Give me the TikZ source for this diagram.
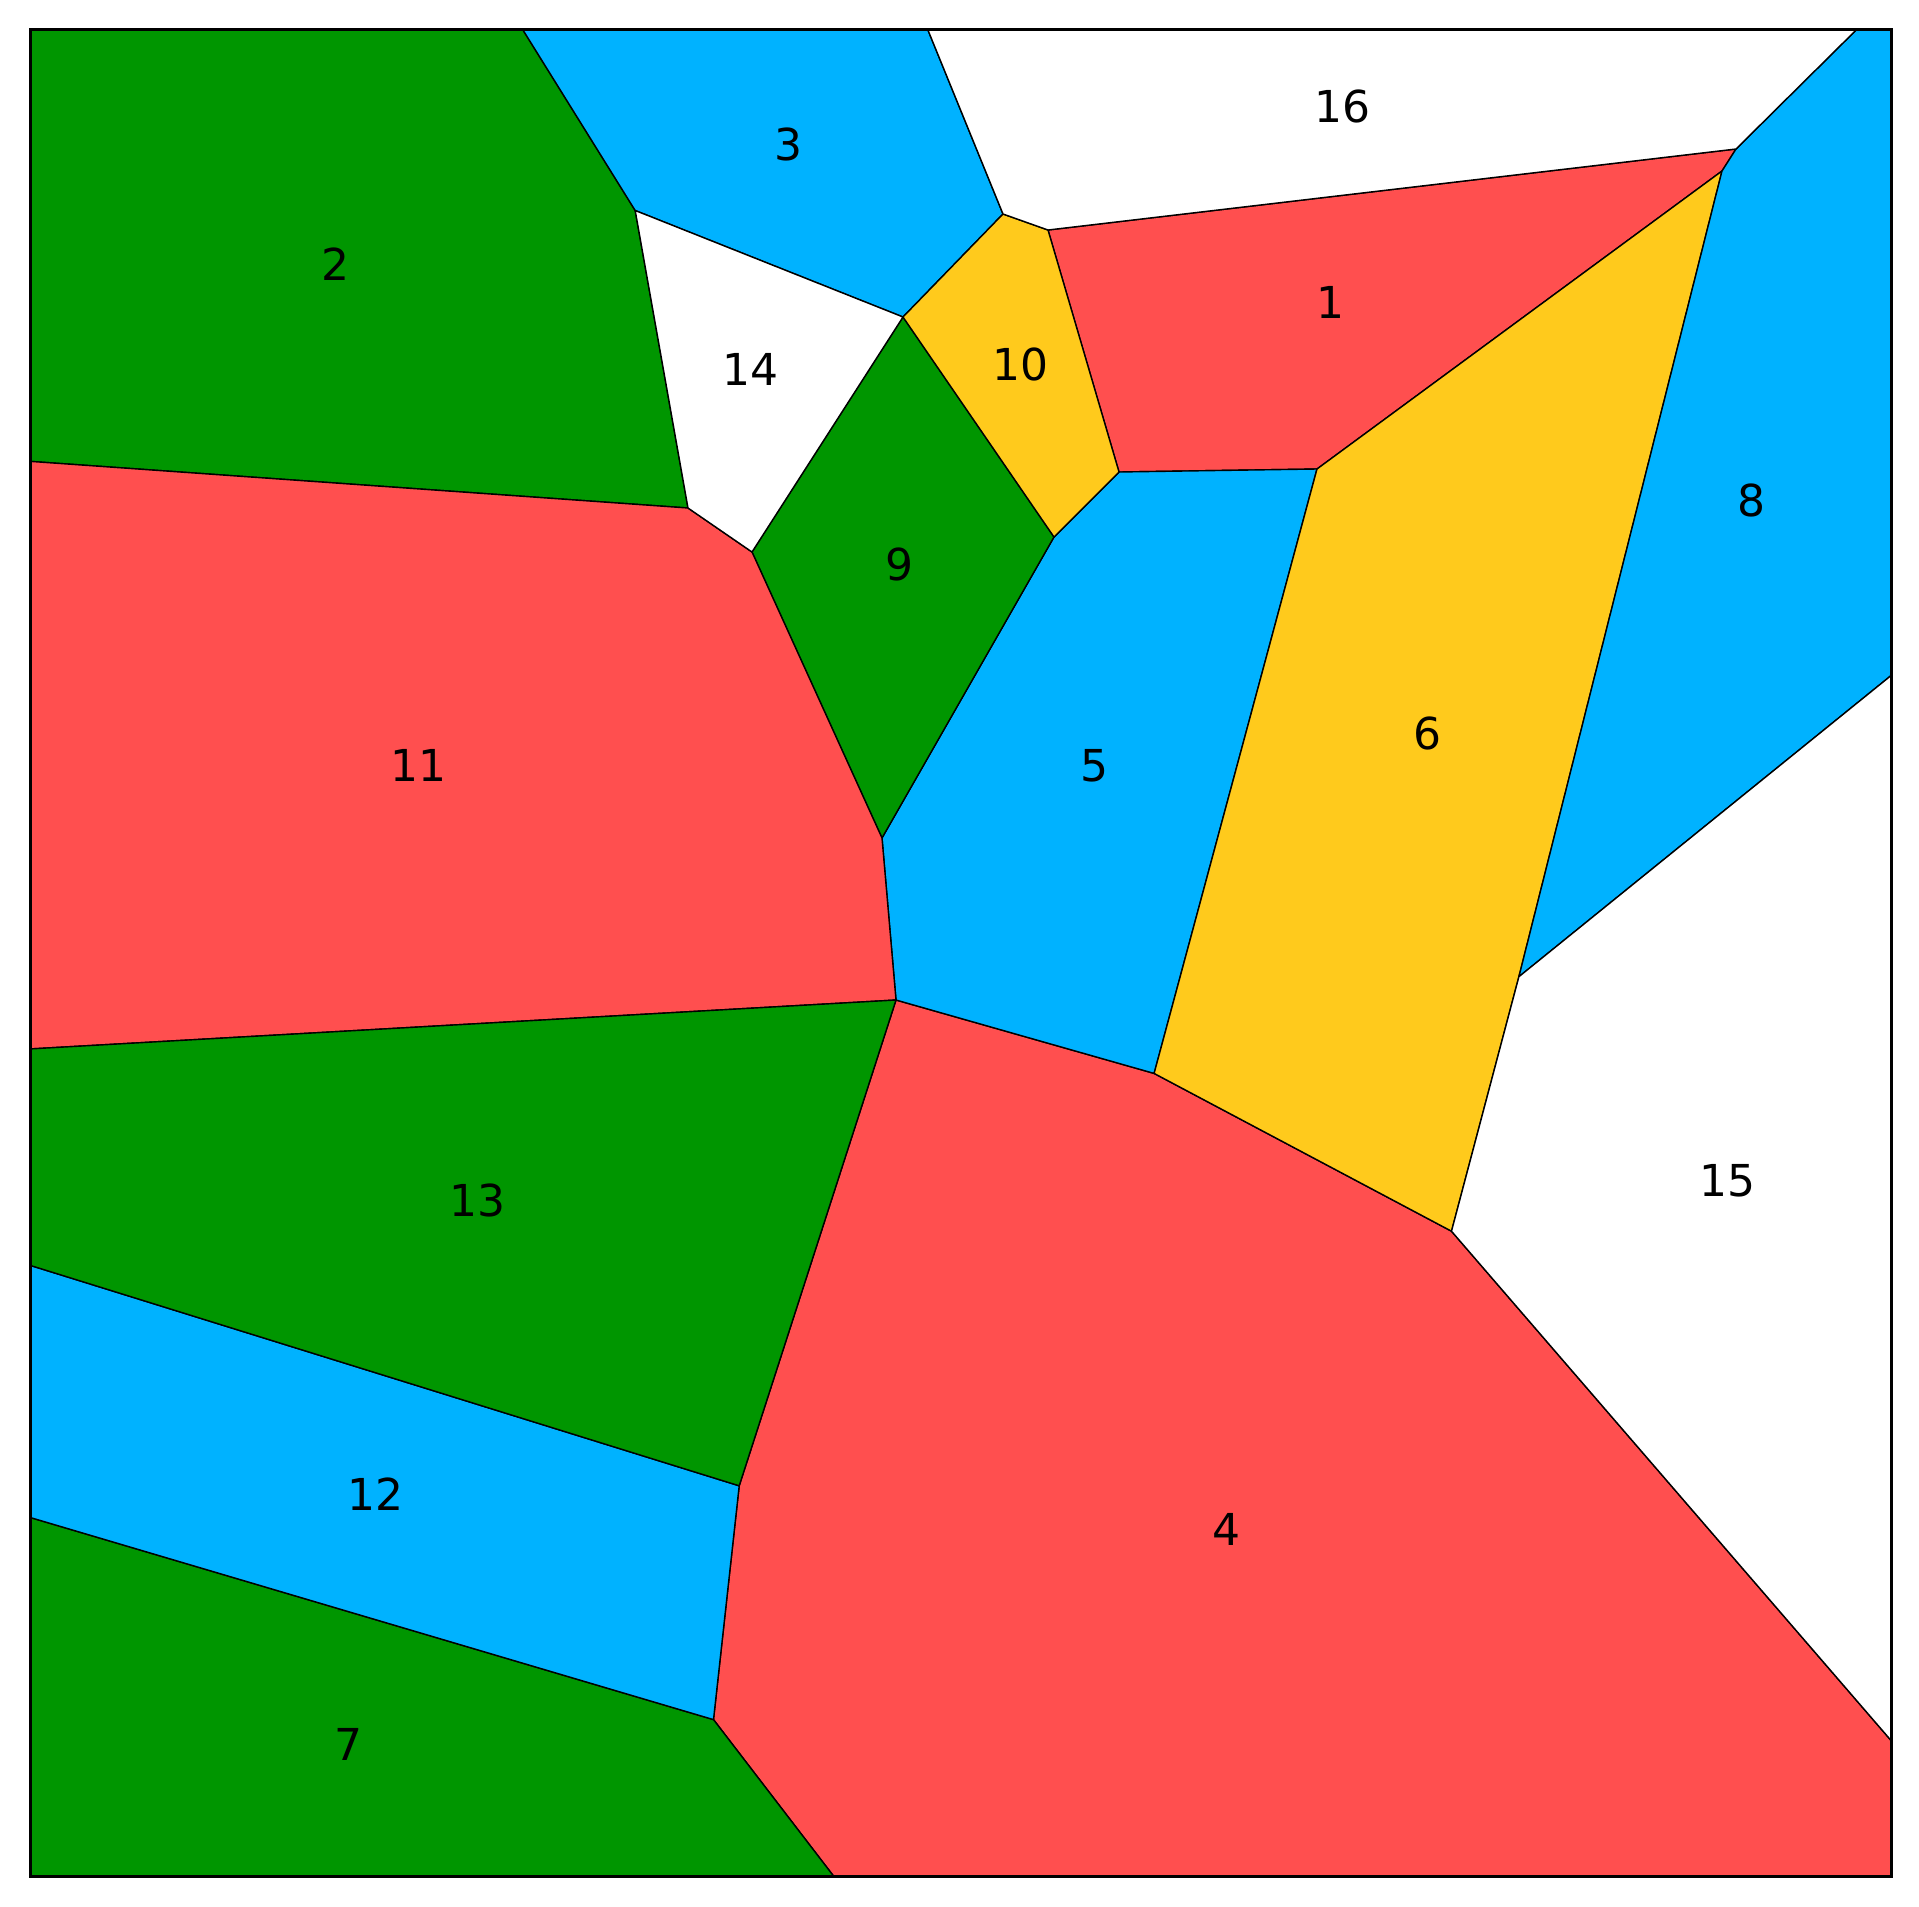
\documentclass[tikz,border=0pt]{standalone}
\usepackage{fontspec}
\setmainfont{DejaVu Sans}
\definecolor{cg}{RGB}{0,150,0}
\definecolor{cb}{RGB}{0,178,255}
\definecolor{cr}{RGB}{255,79,79}
\definecolor{cy}{RGB}{255,202,28}
\begin{document}
\begin{tikzpicture}[x=0.25pt,y=-0.25pt,
  cell/.style={draw=black,line width=0.35pt,line join=round},
  lab/.style={font=\fontsize{11}{13}\selectfont,inner sep=0pt}]
\useasboundingbox (0,0) rectangle (1919,1907);
% vertices
\coordinate (TL) at (30.6,29.4);
\coordinate (TR) at (1891,29.4);
\coordinate (BR) at (1891,1876);
\coordinate (BL) at (30.6,1876);
\coordinate (A) at (522.6,29.4);
\coordinate (B) at (635.2,210.5);
\coordinate (C) at (927.7,29.4);
\coordinate (D) at (1003,214);
\coordinate (E) at (903,317);
\coordinate (F) at (1048,230);
\coordinate (G) at (1736,149);
\coordinate (H) at (1722,171);
\coordinate (I) at (1856.7,29.4);
\coordinate (J) at (1317,469);
\coordinate (K) at (1119,472);
\coordinate (L) at (1054,537);
\coordinate (M) at (688,508);
\coordinate (N) at (752,552);
\coordinate (O) at (882,838);
\coordinate (P) at (896,1000);
\coordinate (Q) at (1154.1,1073.4);
\coordinate (R) at (1451.5,1231.2);
\coordinate (S) at (1518.9,976.7);
\coordinate (T) at (1891,675.6);
\coordinate (U) at (1891,1740.4);
\coordinate (V) at (739.2,1485.8);
\coordinate (W) at (713.5,1719.6);
\coordinate (X) at (833.5,1876);
\coordinate (L1) at (30.6,461.4);
\coordinate (L2) at (30.6,1048.9);
\coordinate (L3) at (30.6,1265.5);
\coordinate (L4) at (30.6,1517.6);
% cells
\draw[cell,fill=cr] (F) -- (G) -- (H) -- (J) -- (K) -- cycle;          % 1
\draw[cell,fill=cg] (TL) -- (A) -- (B) -- (M) -- (L1) -- cycle;        % 2
\draw[cell,fill=cb] (A) -- (C) -- (D) -- (E) -- (B) -- cycle;          % 3
\draw[cell,fill=cr] (W) -- (V) -- (P) -- (Q) -- (R) -- (U) -- (BR) -- (X) -- cycle; % 4
\draw[cell,fill=cb] (L) -- (K) -- (J) -- (Q) -- (P) -- (O) -- cycle;   % 5
\draw[cell,fill=cy] (H) -- (S) -- (R) -- (Q) -- (J) -- cycle;          % 6
\draw[cell,fill=cg] (L4) -- (W) -- (X) -- (BL) -- cycle;               % 7
\draw[cell,fill=cb] (I) -- (TR) -- (T) -- (S) -- (H) -- (G) -- cycle;  % 8
\draw[cell,fill=cg] (E) -- (L) -- (O) -- (N) -- cycle;                 % 9
\draw[cell,fill=cy] (D) -- (F) -- (K) -- (L) -- (E) -- cycle;          % 10
\draw[cell,fill=cr] (L1) -- (M) -- (N) -- (O) -- (P) -- (L2) -- cycle; % 11
\draw[cell,fill=cb] (L3) -- (V) -- (W) -- (L4) -- cycle;               % 12
\draw[cell,fill=cg] (L2) -- (P) -- (V) -- (L3) -- cycle;               % 13
\draw[cell,fill=white] (B) -- (E) -- (N) -- (M) -- cycle;              % 14
\draw[cell,fill=white] (S) -- (T) -- (U) -- (R) -- cycle;              % 15
\draw[cell,fill=white] (C) -- (I) -- (G) -- (F) -- (D) -- cycle;       % 16
\draw[line width=0.75pt] (TL) rectangle (BR);
% labels
\node[lab] (n1) at (1330.4,302.3) {1};
\node[lab] (n2) at (335.3,264.4) {2};
\node[lab] (n3) at (788.2,144.4) {3};
\node[lab] (n4) at (1226.3,1529.9) {4};
\node[lab] (n5) at (1094.2,766.2) {5};
\node[lab] (n6) at (1427.1,733.1) {6};
\node[lab] (n7) at (348.8,1744.1) {7};
\node[lab] (n8) at (1751.4,500.6) {8};
\node[lab] (n9) at (899.6,564.2) {9};
\node[lab] (n10) at (1020.7,364.7) {10};
\node[lab] (n11) at (418.6,765) {11};
\node[lab] (n12) at (375.7,1494.4) {12};
\node[lab] (n13) at (477.3,1200.6) {13};
\node[lab] (n14) at (750.2,369.6) {14};
\node[lab] (n15) at (1727,1181) {15};
\node[lab] (n16) at (1342.6,106.5) {16};
\end{tikzpicture}
\end{document}
